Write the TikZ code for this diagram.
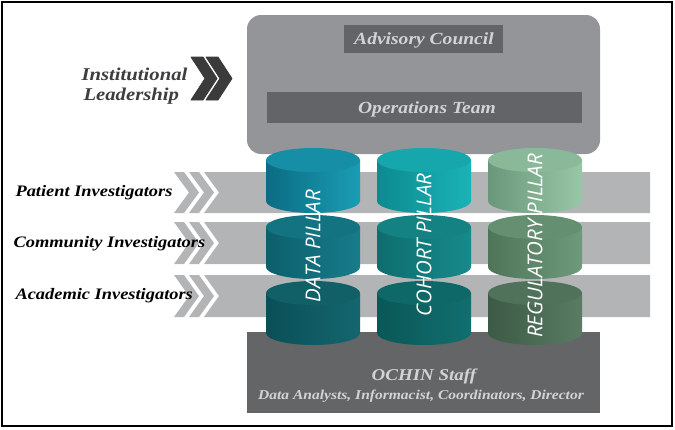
\documentclass[tikz,border=0pt]{standalone}
\usepackage{fontspec}
\setmainfont{Liberation Serif}[FakeStretch=1.15]
\newfontfamily\pillarfont{Open Sans}

\definecolor{framegray}{HTML}{939598}
\definecolor{teamgray}{HTML}{636468}
\definecolor{bandgray}{HTML}{B3B4B6}
\definecolor{arrowdark}{HTML}{3B3B3C}
\definecolor{staffgray}{HTML}{646567}
\definecolor{lighttext}{HTML}{D2D3D5}
\definecolor{labeltext}{HTML}{3E3E40}

\definecolor{dataA}{HTML}{0B6C82}  \definecolor{dataB}{HTML}{1A9DB5}
\definecolor{dataC}{HTML}{0C5F6C}  \definecolor{dataD}{HTML}{177C8A}
\definecolor{dataE}{HTML}{0B4F58}  \definecolor{dataF}{HTML}{14666E}
\definecolor{cohA}{HTML}{0C8A8F}   \definecolor{cohB}{HTML}{1AB3B8}
\definecolor{cohC}{HTML}{0E6D6E}   \definecolor{cohD}{HTML}{178A8B}
\definecolor{cohE}{HTML}{0A5757}   \definecolor{cohF}{HTML}{116F6F}
\definecolor{regA}{HTML}{6A977A}   \definecolor{regB}{HTML}{98C7A7}
\definecolor{regC}{HTML}{4F7559}   \definecolor{regD}{HTML}{6E9A7B}
\definecolor{regE}{HTML}{3C5A45}   \definecolor{regF}{HTML}{5A7C63}

% one cylinder: centre x, top y, bottom y, dark, light
\newcommand{\pillarcyl}[5]{%
    \shade[left color=#4, right color=#5] (#1-47,#2) -- (#1-47,#3)
        arc[start angle=180, end angle=0, x radius=47, y radius=12] -- (#1+47,#2) -- cycle;
    \fill[#5!70!#4] (#1,#2) ellipse[x radius=47, y radius=12];
}

\begin{document}
\begin{tikzpicture}[
    x=1pt, y=-1pt,
    label/.style={font=\bfseries\itshape\fontsize{16}{18}\selectfont, anchor=base west},
    boxtext/.style={font=\bfseries\itshape\fontsize{17}{19}\selectfont, text=lighttext, anchor=base},
    pillartext/.style={font=\pillarfont\itshape\fontsize{20.5}{22}\selectfont, text=white, rotate=90},
    band/.style={fill=bandgray},
    chevdark/.style={fill=arrowdark, draw=arrowdark, line width=0.8pt, line join=round}
]
    \useasboundingbox (0,0) rectangle (675,429);

    % Outer frame
    \draw[line width=1.2pt] (2,2) rectangle (672,426);

    % Leadership block
    \fill[framegray, rounded corners=14pt] (247,15) rectangle (600,154);
    \fill[teamgray] (344,25) rectangle (503,53);
    \node[boxtext] (advisory) at (424,44.5) {Advisory Council};
    \fill[teamgray] (267,92) rectangle (582,123);
    \node[boxtext] (operations) at (427,113) {Operations Team};

    % Institutional leadership label and its double chevron
    \node[label, text=labeltext, font=\bfseries\itshape\fontsize{18}{20}\selectfont] (instA) at (78,80) {Institutional};
    \node[label, text=labeltext, font=\bfseries\itshape\fontsize{18}{20}\selectfont] (instB) at (80,100) {Leadership};
    \filldraw[chevdark] (191,57) -- (203,57) -- (217,78.5) -- (203,100) -- (191,100) -- (205,78.5) -- cycle;
    \filldraw[chevdark] (206,57) -- (218,57) -- (232,78.5) -- (218,100) -- (206,100) -- (220,78.5) -- cycle;

    % Investigator bands (chevron, chevron, notched band)
    \fill[band] (174,172) -- (184,172) -- (199,192.5) -- (184,213) -- (174,213) -- (189,192.5) -- cycle;
    \fill[band] (189,172) -- (199,172) -- (214,192.5) -- (199,213) -- (189,213) -- (204,192.5) -- cycle;
    \fill[band] (204,172) -- (650,172) -- (650,213) -- (204,213) -- (219,192.5) -- cycle;

    \fill[band] (174,222) -- (184,222) -- (199,243) -- (184,264) -- (174,264) -- (189,243) -- cycle;
    \fill[band] (189,222) -- (199,222) -- (214,243) -- (199,264) -- (189,264) -- (204,243) -- cycle;
    \fill[band] (204,222) -- (650,222) -- (650,264) -- (204,264) -- (219,243) -- cycle;

    \fill[band] (174,275) -- (184,275) -- (199,296) -- (184,317) -- (174,317) -- (189,296) -- cycle;
    \fill[band] (189,275) -- (199,275) -- (214,296) -- (199,317) -- (189,317) -- (204,296) -- cycle;
    \fill[band] (204,275) -- (650,275) -- (650,317) -- (204,317) -- (219,296) -- cycle;

    \node[label] (patient) at (12,196) {Patient Investigators};
    \node[label] (community) at (10,247) {Community Investigators};
    \node[label] (academic) at (12,299) {Academic Investigators};

    % Staff block
    \fill[staffgray] (247,332) rectangle (600,413);
    \node[boxtext, font=\bfseries\itshape\fontsize{16.5}{18}\selectfont] (staff) at (424,380) {OCHIN Staff};
    \node[boxtext, font=\bfseries\itshape\fontsize{13.5}{15}\selectfont] (roles) at (421,399) {Data Analysts, Informacist, Coordinators, Director};

    % Data pillar
    \pillarcyl{313}{293}{333}{dataE}{dataF}
    \pillarcyl{313}{227}{267}{dataC}{dataD}
    \pillarcyl{313}{160}{201}{dataA}{dataB}
    \node[pillartext] (data) at (313,246) {DATA PILLAR};

    % Cohort pillar
    \pillarcyl{424}{293}{333}{cohE}{cohF}
    \pillarcyl{424}{227}{267}{cohC}{cohD}
    \pillarcyl{424}{160}{201}{cohA}{cohB}
    \node[pillartext] (cohort) at (424,245) {COHORT PILLAR};

    % Regulatory pillar
    \pillarcyl{535}{293}{333}{regE}{regF}
    \pillarcyl{535}{227}{267}{regC}{regD}
    \pillarcyl{535}{160}{201}{regA}{regB}
    \node[pillartext] (regulatory) at (535,246) {REGULATORY PILLAR};
\end{tikzpicture}
\end{document}
